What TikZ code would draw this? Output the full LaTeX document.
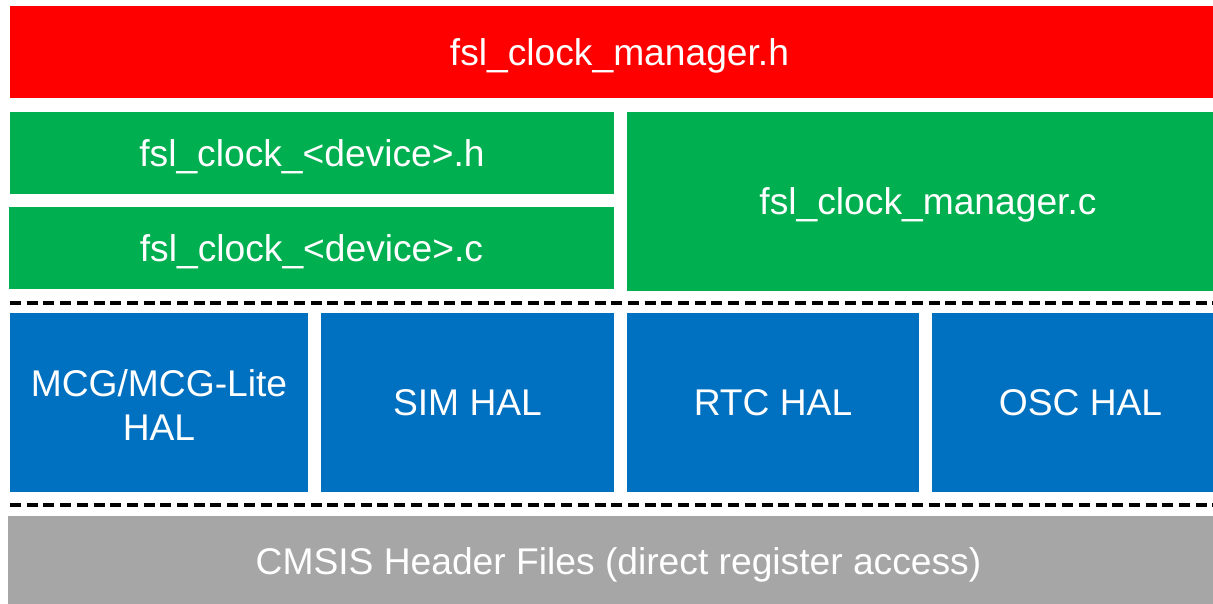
\documentclass[tikz,border=0pt]{standalone}
\usepackage{fontspec}
\setmainfont{Liberation Sans}
\definecolor{cred}{HTML}{FF0000}
\definecolor{cgreen}{HTML}{00B050}
\definecolor{cblue}{HTML}{0070C0}
\definecolor{cgray}{HTML}{A6A6A6}
\begin{document}
\begin{tikzpicture}[x=1pt,y=-1pt,
  blk/.style={anchor=north west,inner sep=0pt,outer sep=0pt,text=white,
    font=\fontsize{37.2}{44}\selectfont,align=center},
  one/.style={text height=26.6pt,text depth=0pt},
  sep/.style={line width=4pt,dash pattern=on 11pt off 5.7pt}]
\useasboundingbox (0,0) rectangle (1213,603);
\clip (0,0) rectangle (1213,603);
\fill[white] (0,0) rectangle (1213,603);
\node[blk,one,fill=cred,minimum width=1219pt,minimum height=92pt] (mgrh) at (10,6) {fsl\_clock\_manager.h};
\node[blk,one,fill=cgreen,minimum width=604pt,minimum height=82pt] (devh) at (10,112) {fsl\_clock\_<device>.h};
\node[blk,one,fill=cgreen,minimum width=605pt,minimum height=82pt] (devc) at (9,207) {fsl\_clock\_<device>.c};
\node[blk,one,fill=cgreen,minimum width=602pt,minimum height=179pt] (mgrc) at (627,112) {fsl\_clock\_manager.c};
\node[blk,fill=cblue,minimum width=298pt,minimum height=179pt] (mcg) at (10,313) {};
\node[text=white,font=\fontsize{37.2}{44}\selectfont,align=center,inner sep=0pt] (mcgt) at ([yshift=-3pt]mcg.center) {MCG/MCG-Lite\\HAL};
\node[blk,one,fill=cblue,minimum width=293pt,minimum height=179pt] (sim) at (321,313) {SIM HAL};
\node[blk,one,fill=cblue,minimum width=292pt,minimum height=179pt] (rtc) at (627,313) {RTC HAL};
\node[blk,one,fill=cblue,minimum width=297pt,minimum height=179pt] (osc) at (932,313) {OSC HAL};
\node[blk,one,fill=cgray,minimum width=1221pt,minimum height=90pt] (cmsis) at (8,516) {CMSIS Header Files (direct register access)};
\coordinate (s1a) at (10,302.5);
\coordinate (s1b) at (1213,302.5);
\coordinate (s2a) at (10,505);
\coordinate (s2b) at (1213,505);
\draw[sep] (s1a) -- (s1b);
\draw[sep] (s2a) -- (s2b);
\end{tikzpicture}
\end{document}
